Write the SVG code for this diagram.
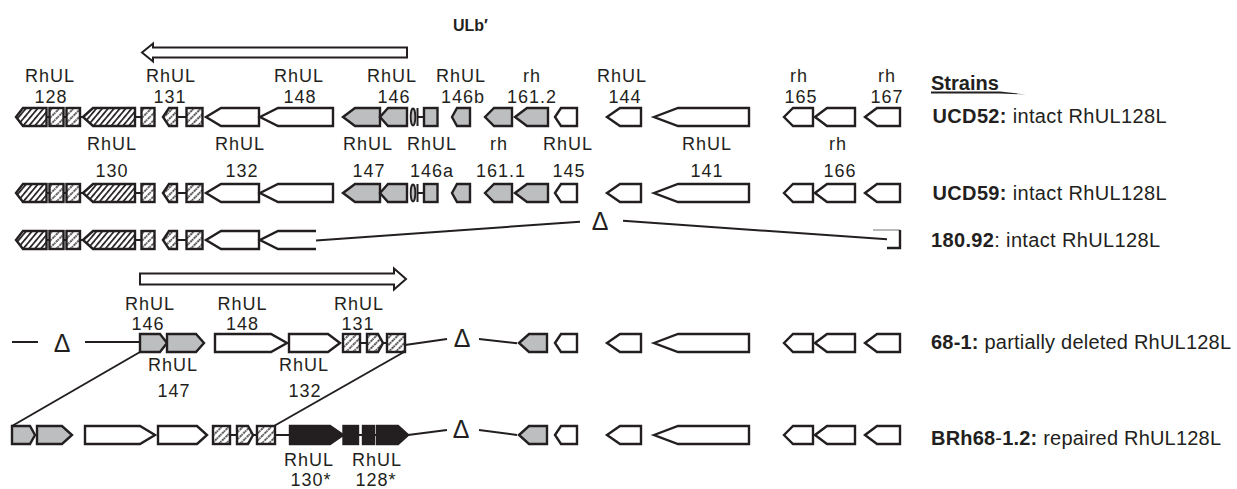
<svg xmlns="http://www.w3.org/2000/svg" width="1237" height="489" viewBox="0 0 1237 489">
<defs>
<pattern id="hatch" patternUnits="userSpaceOnUse" width="4.5" height="4.5" patternTransform="rotate(40)"><rect width="4.5" height="4.5" fill="#fff"/><line x1="0.8" y1="0" x2="0.8" y2="4.5" stroke="#231f20" stroke-width="1.8"/></pattern>
<pattern id="dots" patternUnits="userSpaceOnUse" width="5" height="5" patternTransform="rotate(45)"><rect width="5" height="5" fill="#fff"/><line x1="1" y1="0" x2="1" y2="5" stroke="#231f20" stroke-width="1.6" stroke-dasharray="1.8 0.9"/></pattern>
<style>
.g{stroke:#231f20;stroke-width:2.4;stroke-linejoin:miter}
.w{fill:#fff}.gr{fill:#bcbec0}.bk{fill:#231f20}.hat{fill:url(#hatch)}.dot{fill:url(#dots)}
.c{stroke:#231f20;stroke-width:2;fill:none}
.arr{fill:#fff;stroke:#231f20;stroke-width:2}
text{font-family:"Liberation Sans",Arial,Helvetica,sans-serif;fill:#231f20}
.lbl{font-size:18px;letter-spacing:1px;text-anchor:middle}
.st{font-size:20px}
.b{font-weight:bold}
.delta{font-size:25px;text-anchor:middle}
</style>
</defs>
<rect width="1237" height="489" fill="#fff"/>

<!-- title + direction arrows -->
<g id="ulb">
<text x="453" y="31" class="b" style="font-size:16px">ULb′</text>
<polygon class="arr" points="142,52.5 153,43.5 153,47.5 407,47.5 407,57.5 153,57.5 153,61.5"/>
</g>
<g id="ulb-inverted">
<polygon class="arr" points="140,273.5 394,273.5 394,268.5 406,279 394,289.5 394,284.5 140,284.5"/>
</g>

<!-- connectors -->
<g id="connectors">
<line class="c" x1="316" y1="240.5" x2="580" y2="221.7"/>
<line class="c" x1="623" y1="220.7" x2="887" y2="239.3"/>
<line class="c" x1="12" y1="342" x2="38" y2="342"/>
<line class="c" x1="85" y1="342" x2="140" y2="342"/>
<line class="c" x1="405" y1="345" x2="447" y2="339"/>
<line class="c" x1="479" y1="339" x2="517" y2="343.3"/>
<line class="c" x1="275" y1="435" x2="290" y2="435"/>
<line class="c" x1="408" y1="435" x2="447" y2="430"/>
<line class="c" x1="479" y1="430" x2="517" y2="435"/>
<line class="c" x1="140" y1="352" x2="12" y2="426"/>
<line class="c" x1="404" y1="352" x2="274" y2="426"/>
<text class="delta" x="600" y="229.5">Δ</text>
<text class="delta" x="62" y="352">Δ</text>
<text class="delta" x="462" y="346.5">Δ</text>
<text class="delta" x="461" y="437.5">Δ</text>
</g>

<!-- ROW 1: UCD52 -->
<g id="row-UCD52" transform="translate(0,117)">
<g id="r1-128"><polygon class="g hat" points="16,0 23,-9 46.5,-9 46.5,9 23,9"/><line class="c" x1="46.5" y1="0" x2="49.5" y2="0"/><rect class="g dot" x="49.5" y="-9" width="14" height="18"/><line class="c" x1="63.5" y1="0" x2="66.5" y2="0"/><rect class="g dot" x="66.5" y="-9" width="13.5" height="18"/><line class="c" x1="80" y1="0" x2="83" y2="0"/></g>
<g id="r1-130"><polygon class="g hat" points="83,0 93,-9 135,-9 135,9 93,9"/><line class="c" x1="135" y1="0" x2="141.5" y2="0"/></g>
<g id="r1-131"><rect class="g dot" x="141.5" y="-9" width="13" height="18"/><polygon class="g dot" points="163,0 169,-9 177,-9 177,9 169,9"/><line class="c" x1="177" y1="0" x2="186.5" y2="0"/><rect class="g dot" x="186.5" y="-9" width="16" height="18"/></g>
<g id="r1-132"><polygon class="g w" points="206,0 221,-9 259,-9 259,9 221,9"/></g>
<g id="r1-148"><polygon class="g w" points="260,0 278,-9 333,-9 333,9 278,9"/></g>
<g id="r1-147"><polygon class="g gr" points="343,0 355,-9 380,-9 380,9 355,9"/></g>
<g id="r1-146"><polygon class="g gr" points="380,0 388,-9 407,-9 407,9 388,9"/></g>
<g id="r1-146a"><ellipse class="g gr" cx="413" cy="0" rx="2.3" ry="8.5" style="stroke-width:1.8"/><line class="c" x1="417.5" y1="-9" x2="417.5" y2="9"/><line class="c" x1="417.5" y1="0" x2="424" y2="0"/><rect class="g gr" x="424" y="-9" width="13.5" height="18"/></g>
<g id="r1-146b"><polygon class="g gr" points="452,0 457,-9 470,-9 470,9 457,9"/></g>
<g id="r1-161.1"><polygon class="g gr" points="485,0 494,-9 512,-9 512,9 494,9"/></g>
<g id="r1-161.2"><polygon class="g gr" points="515,0 527,-9 548,-9 548,9 527,9"/></g>
<g id="r1-145"><polygon class="g w" points="555,0 561,-9 577,-9 577,9 561,9"/></g>
<g id="r1-144"><polygon class="g w" points="607,0 620,-9 641,-9 641,9 620,9"/></g>
<g id="r1-141"><polygon class="g w" points="654,0 678,-9 749,-9 749,9 678,9"/></g>
<g id="r1-165"><polygon class="g w" points="784,0 793,-9 813,-9 813,9 793,9"/></g>
<g id="r1-166"><polygon class="g w" points="815,0 827,-9 855,-9 855,9 827,9"/></g>
<g id="r1-167"><polygon class="g w" points="865,0 877,-9 900,-9 900,9 877,9"/></g>
</g>

<!-- ROW 2: UCD59 -->
<g id="row-UCD59" transform="translate(0,193)">
<g id="r2-128"><polygon class="g hat" points="16,0 23,-9 46.5,-9 46.5,9 23,9"/><line class="c" x1="46.5" y1="0" x2="49.5" y2="0"/><rect class="g dot" x="49.5" y="-9" width="14" height="18"/><line class="c" x1="63.5" y1="0" x2="66.5" y2="0"/><rect class="g dot" x="66.5" y="-9" width="13.5" height="18"/><line class="c" x1="80" y1="0" x2="83" y2="0"/></g>
<g id="r2-130"><polygon class="g hat" points="83,0 93,-9 135,-9 135,9 93,9"/><line class="c" x1="135" y1="0" x2="141.5" y2="0"/></g>
<g id="r2-131"><rect class="g dot" x="141.5" y="-9" width="13" height="18"/><polygon class="g dot" points="163,0 169,-9 177,-9 177,9 169,9"/><line class="c" x1="177" y1="0" x2="186.5" y2="0"/><rect class="g dot" x="186.5" y="-9" width="16" height="18"/></g>
<g id="r2-132"><polygon class="g w" points="206,0 221,-9 259,-9 259,9 221,9"/></g>
<g id="r2-148"><polygon class="g w" points="260,0 278,-9 333,-9 333,9 278,9"/></g>
<g id="r2-147"><polygon class="g gr" points="343,0 355,-9 380,-9 380,9 355,9"/></g>
<g id="r2-146"><polygon class="g gr" points="380,0 388,-9 407,-9 407,9 388,9"/></g>
<g id="r2-146a"><ellipse class="g gr" cx="413" cy="0" rx="2.3" ry="8.5" style="stroke-width:1.8"/><line class="c" x1="417.5" y1="-9" x2="417.5" y2="9"/><line class="c" x1="417.5" y1="0" x2="424" y2="0"/><rect class="g gr" x="424" y="-9" width="13.5" height="18"/></g>
<g id="r2-146b"><polygon class="g gr" points="452,0 457,-9 470,-9 470,9 457,9"/></g>
<g id="r2-161.1"><polygon class="g gr" points="485,0 494,-9 512,-9 512,9 494,9"/></g>
<g id="r2-161.2"><polygon class="g gr" points="515,0 527,-9 548,-9 548,9 527,9"/></g>
<g id="r2-145"><polygon class="g w" points="555,0 561,-9 577,-9 577,9 561,9"/></g>
<g id="r2-144"><polygon class="g w" points="607,0 620,-9 641,-9 641,9 620,9"/></g>
<g id="r2-141"><polygon class="g w" points="654,0 678,-9 749,-9 749,9 678,9"/></g>
<g id="r2-165"><polygon class="g w" points="784,0 793,-9 813,-9 813,9 793,9"/></g>
<g id="r2-166"><polygon class="g w" points="815,0 827,-9 855,-9 855,9 827,9"/></g>
<g id="r2-167"><polygon class="g w" points="865,0 877,-9 900,-9 900,9 877,9"/></g>
</g>

<!-- ROW 3: 180.92 -->
<g id="row-180.92" transform="translate(0,240)">
<g id="r3-128"><polygon class="g hat" points="16,0 23,-9 46.5,-9 46.5,9 23,9"/><line class="c" x1="46.5" y1="0" x2="49.5" y2="0"/><rect class="g dot" x="49.5" y="-9" width="14" height="18"/><line class="c" x1="63.5" y1="0" x2="66.5" y2="0"/><rect class="g dot" x="66.5" y="-9" width="13.5" height="18"/><line class="c" x1="80" y1="0" x2="83" y2="0"/></g>
<g id="r3-130"><polygon class="g hat" points="83,0 93,-9 135,-9 135,9 93,9"/><line class="c" x1="135" y1="0" x2="141.5" y2="0"/></g>
<g id="r3-131"><rect class="g dot" x="141.5" y="-9" width="13" height="18"/><polygon class="g dot" points="163,0 169,-9 177,-9 177,9 169,9"/><line class="c" x1="177" y1="0" x2="186.5" y2="0"/><rect class="g dot" x="186.5" y="-9" width="16" height="18"/></g>
<g id="r3-132"><polygon class="g w" points="206,0 221,-9 259,-9 259,9 221,9"/></g>
<g id="r3-148"><polyline class="g w" points="316,-9 278,-9 260,0 278,9 316,9"/></g>
<g id="r3-167"><line x1="873" y1="-10" x2="900" y2="-10" stroke="#8a8a8a" stroke-width="1.2"/><polyline class="g" fill="none" points="900,-10 900,8 887,8"/></g>
</g>

<!-- ROW 4: 68-1 -->
<g id="row-68-1" transform="translate(0,343)">
<g id="r4-146"><polygon class="g gr" points="140,-9 160,-9 167,0 160,9 140,9"/></g>
<g id="r4-147"><polygon class="g gr" points="167,-9 196,-9 204,0 196,9 167,9"/></g>
<g id="r4-148"><polygon class="g w" points="215,-9 271,-9 287,0 271,9 215,9"/></g>
<g id="r4-132"><polygon class="g w" points="289,-9 328,-9 340,0 328,9 289,9"/></g>
<g id="r4-131"><rect class="g dot" x="343" y="-9" width="17" height="18"/><line class="c" x1="360" y1="0" x2="367" y2="0"/><polygon class="g dot" points="367,-9 378,-9 383,0 378,9 367,9"/><line class="c" x1="383" y1="0" x2="387" y2="0"/><rect class="g dot" x="387" y="-9" width="18" height="18"/></g>
<g id="r4-161"><polygon class="g gr" points="519,0 529,-9 547,-9 547,9 529,9"/></g>
<g id="r4-145"><polygon class="g w" points="555,0 561,-9 577,-9 577,9 561,9"/></g>
<g id="r4-144"><polygon class="g w" points="607,0 620,-9 641,-9 641,9 620,9"/></g>
<g id="r4-141"><polygon class="g w" points="654,0 678,-9 749,-9 749,9 678,9"/></g>
<g id="r4-165"><polygon class="g w" points="784,0 793,-9 813,-9 813,9 793,9"/></g>
<g id="r4-166"><polygon class="g w" points="815,0 827,-9 855,-9 855,9 827,9"/></g>
<g id="r4-167"><polygon class="g w" points="865,0 877,-9 900,-9 900,9 877,9"/></g>
</g>

<!-- ROW 5: BRh68-1.2 -->
<g id="row-BRh68-1.2" transform="translate(0,435)">
<g id="r5-146"><polygon class="g gr" points="12,-9 30,-9 35,0 30,9 12,9"/></g>
<g id="r5-147"><polygon class="g gr" points="37,-9 62,-9 72,0 62,9 37,9"/></g>
<g id="r5-148"><polygon class="g w" points="85,-9 140,-9 155,0 140,9 85,9"/></g>
<g id="r5-132"><polygon class="g w" points="158,-9 197,-9 207,0 197,9 158,9"/></g>
<g id="r5-131"><rect class="g dot" x="213" y="-9" width="17" height="18"/><line class="c" x1="230" y1="0" x2="237" y2="0"/><polygon class="g dot" points="237,-9 248,-9 253,0 248,9 237,9"/><line class="c" x1="253" y1="0" x2="257" y2="0"/><rect class="g dot" x="257" y="-9" width="18" height="18"/></g>
<g id="r5-130s"><polygon class="g bk" points="290,-9 330,-9 343,0 330,9 290,9"/></g>
<g id="r5-128s"><rect class="g bk" x="343.5" y="-9" width="14.5" height="18"/><line class="c" x1="358" y1="0" x2="363" y2="0"/><rect class="g bk" x="363" y="-9" width="11" height="18"/><line class="c" x1="374" y1="0" x2="377" y2="0"/><polygon class="g bk" points="377,-9 398,-9 408,0 398,9 377,9"/></g>
<g id="r5-161"><polygon class="g gr" points="519,0 529,-9 547,-9 547,9 529,9"/></g>
<g id="r5-145"><polygon class="g w" points="555,0 561,-9 577,-9 577,9 561,9"/></g>
<g id="r5-144"><polygon class="g w" points="607,0 620,-9 641,-9 641,9 620,9"/></g>
<g id="r5-141"><polygon class="g w" points="654,0 678,-9 749,-9 749,9 678,9"/></g>
<g id="r5-165"><polygon class="g w" points="784,0 793,-9 813,-9 813,9 793,9"/></g>
<g id="r5-166"><polygon class="g w" points="815,0 827,-9 855,-9 855,9 827,9"/></g>
<g id="r5-167"><polygon class="g w" points="865,0 877,-9 900,-9 900,9 877,9"/></g>
</g>

<!-- gene labels -->
<g id="gene-labels" class="lbl">
<text x="50" y="82">RhUL</text><text x="51" y="103">128</text>
<text x="171" y="82">RhUL</text><text x="170" y="103">131</text>
<text x="299" y="82">RhUL</text><text x="300" y="103">148</text>
<text x="392" y="82">RhUL</text><text x="394" y="103">146</text>
<text x="461" y="82">RhUL</text><text x="463" y="103">146b</text>
<text x="532" y="82">rh</text><text x="532" y="103">161.2</text>
<text x="622" y="82">RhUL</text><text x="625" y="103">144</text>
<text x="799" y="82">rh</text><text x="801" y="103">165</text>
<text x="887" y="82">rh</text><text x="887" y="103">167</text>

<text x="112" y="150">RhUL</text><text x="112" y="176.5">130</text>
<text x="240" y="150">RhUL</text><text x="242" y="176.5">132</text>
<text x="368" y="150">RhUL</text><text x="369" y="176.5">147</text>
<text x="432" y="150">RhUL</text><text x="432" y="176.5">146a</text>
<text x="499" y="150">rh</text><text x="501" y="176.5">161.1</text>
<text x="568" y="150">RhUL</text><text x="569" y="176.5">145</text>
<text x="707" y="150">RhUL</text><text x="707" y="176.5">141</text>
<text x="838" y="150">rh</text><text x="840" y="176.5">166</text>

<text x="150" y="310">RhUL</text><text x="148" y="330">146</text>
<text x="242.5" y="310">RhUL</text><text x="242.5" y="330">148</text>
<text x="359" y="310">RhUL</text><text x="358" y="330">131</text>

<text x="173" y="371">RhUL</text><text x="174" y="397">147</text>
<text x="304" y="371">RhUL</text><text x="305" y="397">132</text>

<text x="309" y="466">RhUL</text><text x="311" y="486">130*</text>
<text x="377" y="466">RhUL</text><text x="376" y="486">128*</text>
</g>

<!-- strain legend -->
<g id="legend">
<text x="931" y="90" class="st b">Strains</text>
<path d="M931,91.6 L1000,91.6 L1026,94.5 L1000,93.4 L931,93.4 Z" fill="#231f20"/>
<text x="932.5" y="123.3" class="st" textLength="234" lengthAdjust="spacing"><tspan class="b">UCD52:</tspan> intact RhUL128L</text>
<text x="932.5" y="199.5" class="st" textLength="234" lengthAdjust="spacing"><tspan class="b">UCD59:</tspan> intact RhUL128L</text>
<text x="931" y="246.5" class="st" textLength="229" lengthAdjust="spacing"><tspan class="b">180.92</tspan>: intact RhUL128L</text>
<text x="931" y="349.3" class="st" textLength="300" lengthAdjust="spacing"><tspan class="b">68-1:</tspan> partially deleted RhUL128L</text>
<text x="931" y="445" class="st" textLength="290" lengthAdjust="spacing"><tspan class="b">BRh68</tspan>-<tspan class="b">1.2:</tspan> repaired RhUL128L</text>
</g>
</svg>
